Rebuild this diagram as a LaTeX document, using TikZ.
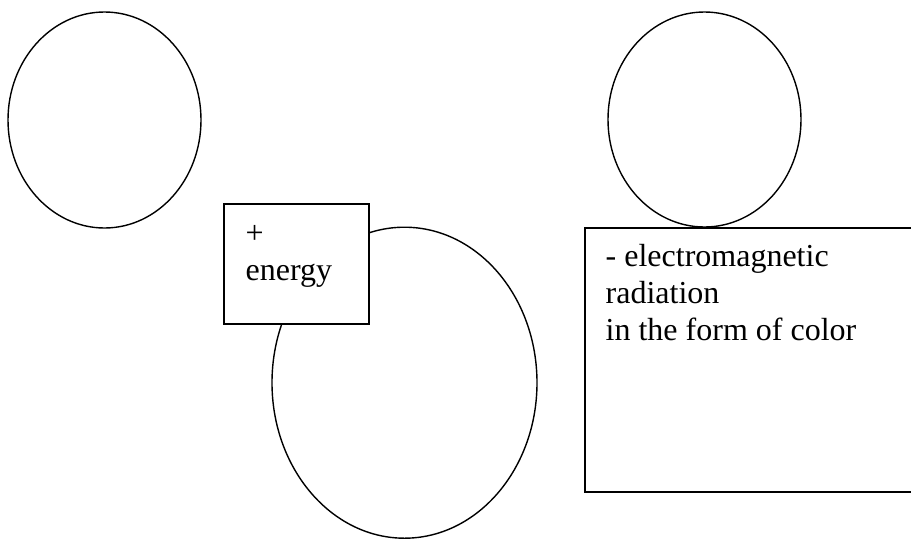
\documentclass[tikz,border=0pt]{standalone}
\usepackage{fontspec}
\setmainfont{Liberation Serif}
\usetikzlibrary{shapes.geometric}
\begin{document}
\begin{tikzpicture}[x=1pt, y=-1pt, line width=1.4pt,
  blob/.style={draw, ellipse, inner sep=0pt},
  card/.style={draw, fill=white, rectangle, inner sep=0pt},
  note/.style={anchor=base west, align=left, inner sep=0pt, font=\fontsize{32}{36.6}\selectfont}]
\useasboundingbox (0,0) rectangle (911,539);
\clip (0,0) rectangle (911,539);
\node[blob, minimum width=193, minimum height=216] (atomleft) at (104.5,120) {};
\node[blob, minimum width=193, minimum height=215] (atomright) at (704.5,119.5) {};
\node[blob, minimum width=265, minimum height=311] (atomexcited) at (404.5,382.7) {};
\node[card, minimum width=145, minimum height=120] (energybox) at (296.5,264) {};
\node[card, minimum width=345, minimum height=264] (lightbox) at (757.5,360) {};
% base anchor sits on the last line
\node[note] (energytext) at (245,280.5) {+\\energy};
\node[note] (lighttext) at (605,340) {- electromagnetic\\radiation\\in the form of color};
\end{tikzpicture}
\end{document}
